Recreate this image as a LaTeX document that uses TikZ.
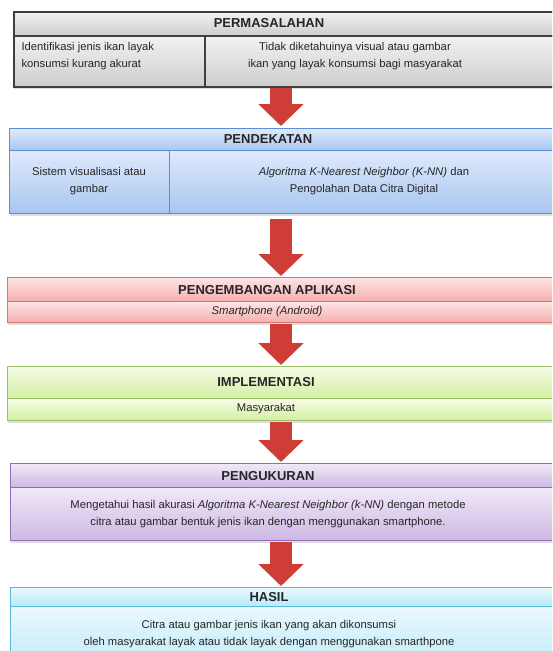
\documentclass[tikz,border=0pt]{standalone}
\usepackage{fontspec}
\setmainfont{Liberation Sans}
\usetikzlibrary{arrows.meta,shadows}

% stage colours
\definecolor{permTop}{HTML}{F2F2F2}
\definecolor{permBot}{HTML}{CDCDCD}
\definecolor{permLine}{HTML}{3F3F3F}
\definecolor{pendTop}{HTML}{DFE9FB}
\definecolor{pendBot}{HTML}{A9C6F1}
\definecolor{pendLine}{HTML}{5B8ED6}
\definecolor{appTop}{HTML}{FDE4E4}
\definecolor{appBot}{HTML}{F6AEAE}
\definecolor{appLine}{HTML}{CF7A7A}
\definecolor{implTop}{HTML}{F6FCE6}
\definecolor{implBot}{HTML}{D3EFA2}
\definecolor{implLine}{HTML}{9CC068}
\definecolor{ukurTop}{HTML}{F1E9F8}
\definecolor{ukurBot}{HTML}{CDB8E3}
\definecolor{ukurLine}{HTML}{8E6FB5}
\definecolor{hasilTop}{HTML}{E9F8FD}
\definecolor{hasilBot}{HTML}{B9E9F8}
\definecolor{hasilLine}{HTML}{5BBBD8}
\definecolor{arrowRed}{RGB}{206,62,54}

\begin{document}
\begin{tikzpicture}[x=1pt,y=-1pt,
  cellbox/.style={draw=#1Line, top color=#1Top, bottom color=#1Bot, line width=1pt,
    anchor=north west, inner sep=0pt},
  bodybox/.style={cellbox=#1, drop shadow={shadow xshift=0pt, shadow yshift=-2.5pt, opacity=0.25}},
  stagehead/.style={font=\fontsize{13}{15}\selectfont\bfseries, text=black!85},
  stagetext/.style={font=\fontsize{11.25}{16.5}\selectfont, text=black!85, align=center},
  flow/.style={line width=22pt, draw=arrowRed, -{Triangle[width=44pt,length=22pt]},
    shorten <=1pt, shorten >=1pt}]
  \useasboundingbox (0,0) rectangle (552,651);
  \clip (0,0) rectangle (552,651);

  % Permasalahan
  \node[cellbox=perm, line width=1.5pt, minimum width=545pt, minimum height=24pt] (permH) at (13,11) {};
  \node[bodybox=perm, line width=1.5pt, minimum width=191pt, minimum height=51pt] (permL) at (13,35) {};
  \node[bodybox=perm, line width=1.5pt, minimum width=356pt, minimum height=51pt] (permR) at (204,35) {};
  \node[stagehead] (permT) at (269,23) {PERMASALAHAN};
  \node[stagetext, align=left, anchor=west] (permLT) at (18,56) {Identifikasi jenis ikan layak\\konsumsi kurang akurat};
  \node[stagetext] (permRT) at (355,56) {Tidak diketahuinya visual atau gambar\\ikan yang layak konsumsi bagi masyarakat};

  % Pendekatan
  \node[cellbox=pend, minimum width=551pt, minimum height=22pt] (pendH) at (9,128) {};
  \node[bodybox=pend, minimum width=391pt, minimum height=63pt] (pendR) at (169,150) {};
  \node[bodybox=pend, minimum width=160pt, minimum height=63pt] (pendL) at (9,150) {};
  \node[stagehead] (pendT) at (268,139) {PENDEKATAN};
  \node[stagetext] (pendLT) at (89,181) {Sistem visualisasi atau\\gambar};
  \node[stagetext] (pendRT) at (364,181) {\textit{Algoritma K-Nearest Neighbor (K-NN)} dan\\Pengolahan Data Citra Digital};

  % Pengembangan aplikasi
  \node[cellbox=app, minimum width=553pt, minimum height=24pt] (appH) at (7,277) {};
  \node[bodybox=app, minimum width=553pt, minimum height=21pt] (appB) at (7,301) {};
  \node[stagehead] (appT) at (267,290) {PENGEMBANGAN APLIKASI};
  \node[stagetext] (appBT) at (267,312) {\textit{Smartphone (Android)}};

  % Implementasi
  \node[cellbox=impl, minimum width=553pt, minimum height=32pt] (implH) at (7,366) {};
  \node[bodybox=impl, minimum width=553pt, minimum height=22pt] (implB) at (7,398) {};
  \node[stagehead] (implT) at (266,382) {IMPLEMENTASI};
  \node[stagetext] (implBT) at (266,409) {Masyarakat};

  % Pengukuran
  \node[cellbox=ukur, minimum width=550pt, minimum height=24pt] (ukurH) at (10,463) {};
  \node[bodybox=ukur, minimum width=550pt, minimum height=53pt] (ukurB) at (10,487) {};
  \node[stagehead] (ukurT) at (268,476) {PENGUKURAN};
  \node[stagetext] (ukurBT) at (268,514) {Mengetahui hasil akurasi \textit{Algoritma K-Nearest Neighbor (k-NN)} dengan metode\\citra atau gambar bentuk jenis ikan dengan menggunakan smartphone.};

  % Hasil
  \node[cellbox=hasil, minimum width=550pt, minimum height=19pt] (hasilH) at (10,587) {};
  \node[bodybox=hasil, minimum width=550pt, minimum height=70pt] (hasilB) at (10,606) {};
  \node[stagehead] (hasilT) at (269,597) {HASIL};
  \node[stagetext] (hasilBT) at (269,634) {Citra atau gambar jenis ikan yang akan dikonsumsi\\oleh masyarakat layak atau tidak layak dengan menggunakan smarthpone};

  % Arrows between stages
  \coordinate (ax) at (281,0);
  \draw[flow, shorten <=0pt, shorten >=2pt] (permR.south -| ax) -- (pendH.north -| ax);
  \draw[flow, shorten <=5pt] (pendR.south -| ax) -- (appH.north -| ax);
  \draw[flow] (appB.south -| ax) -- (implH.north -| ax);
  \draw[flow] (implB.south -| ax) -- (ukurH.north -| ax);
  \draw[flow] (ukurB.south -| ax) -- (hasilH.north -| ax);
\end{tikzpicture}
\end{document}
